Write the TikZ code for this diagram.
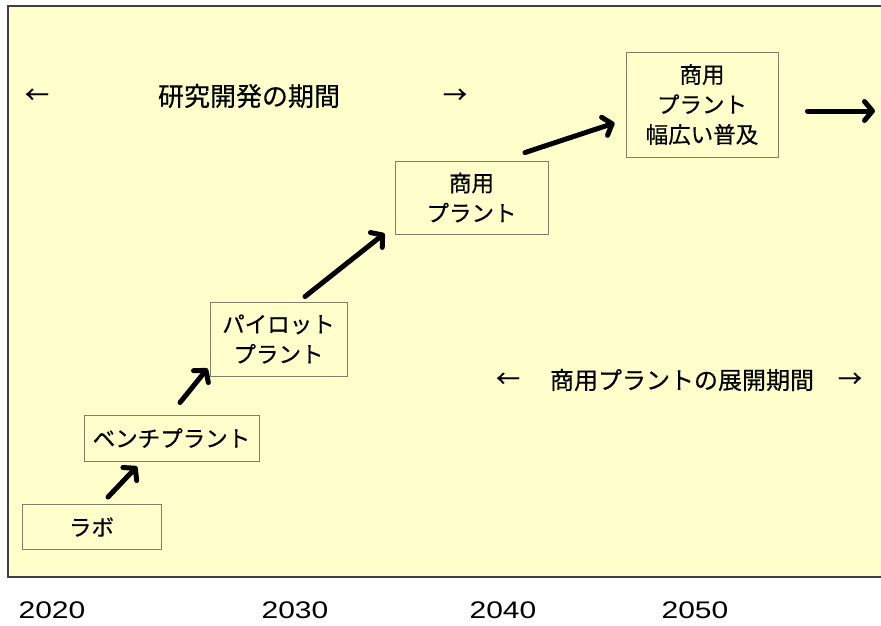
\documentclass[tikz,border=0pt]{standalone}
\usepackage{fontspec}
\setmainfont{Liberation Sans}
\newfontfamily\cjk[FakeBold=0.4]{Noto Sans CJK JP}
\usetikzlibrary{arrows.meta,calc}
\definecolor{bgyellow}{HTML}{FFFFCC}
\definecolor{frame}{HTML}{404040}
\definecolor{boxline}{HTML}{7F7F6A}
\tikzset{
  stagebox/.style={draw=boxline, line width=0.9pt, fill=bgyellow, align=center,
    font=\cjk\fontsize{22.5}{30}\selectfont, inner sep=0pt},
  bigarrow/.style={line width=5pt, line cap=round, line join=round,
    -{Straight Barb[length=8pt,width=19pt,round]}},
  periodlabel/.style={font=\cjk\fontsize{24}{28}\selectfont, inner sep=0pt},
  yearlabel/.style={font=\fontsize{24}{28}\selectfont, inner sep=0pt}
}
\begin{document}
\begin{tikzpicture}[x=1pt,y=-1pt]
\useasboundingbox (0,0) rectangle (881,626);
\begin{scope}
\clip (0,0) rectangle (881,626);
\draw[frame, line width=1.3pt, fill=bgyellow] (8,6) rectangle (890,577);
\end{scope}

% stage boxes
\node[stagebox, minimum width=139pt, minimum height=45pt] (lab) at (91.5,527) {ラボ};
\node[stagebox, minimum width=175pt, minimum height=46pt] (bench) at (171.5,438) {ベンチプラント};
\node[stagebox, minimum width=137pt, minimum height=74pt] (pilot) at (278.5,339) {パイロット\\プラント};
\node[stagebox, minimum width=153pt, minimum height=73pt] (comm) at (471.5,197.5) {商用\\プラント};
\node[stagebox, minimum width=152pt, minimum height=105pt] (wide) at (702,104.5) {商用\\プラント\\幅広い普及};

% arrows
\draw[bigarrow] ($(lab.north)+(16.5,-7)$) -- ($(bench.south)+(-34.5,5)$);
\draw[bigarrow] ($(bench.north)+(8.5,-12)$) -- ($(pilot.south west)+(-2,-8)$);
\draw[bigarrow] ($(pilot.north)+(26.5,-5)$) -- ($(comm.south west)+(-10,-1)$);
\draw[bigarrow] ($(comm.north)+(53.5,-8)$) -- ($(wide.west)+(-11,18.5)$);
\coordinate (future) at (875,111);
\draw[bigarrow] ($(wide.east)+(29,6.5)$) -- (future);

% period labels
\node[periodlabel] (rdl) at (37,96) {←};
\node[periodlabel, font=\cjk\fontsize{26}{30}\selectfont] (rd) at (249,96) {研究開発の期間};
\node[periodlabel] (rdr) at (455,96) {→};
\node[periodlabel] (cpl) at (508,380) {←};
\node[periodlabel] (cp) at (682,380) {商用プラントの展開期間};
\node[periodlabel] (cpr) at (850,380) {→};

% years
\node[yearlabel] (y2020) at (52,610) {\scalebox{1.25}[1]{2020}};
\node[yearlabel] (y2030) at (295,610) {\scalebox{1.25}[1]{2030}};
\node[yearlabel] (y2040) at (503,610) {\scalebox{1.25}[1]{2040}};
\node[yearlabel] (y2050) at (695,610) {\scalebox{1.25}[1]{2050}};
\end{tikzpicture}
\end{document}
